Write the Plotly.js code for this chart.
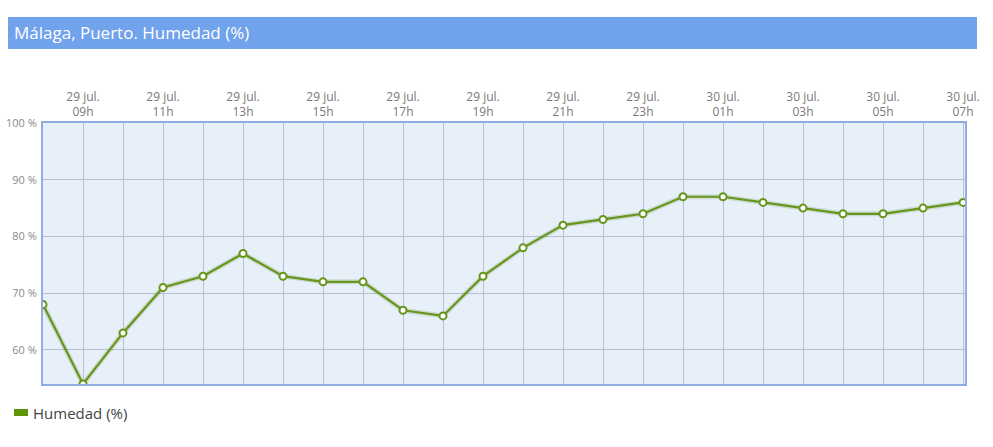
<!DOCTYPE html>
<html>
<head>
<meta charset="utf-8">
<script src="https://cdn.plot.ly/plotly-3.0.1.min.js"></script>
<style>html,body{margin:0;padding:0;background:#fff;}#chart{width:993px;height:447px;}</style>
</head>
<body>
<div id="chart"></div>
<script>
const times = ['2024-07-29 08:00','2024-07-29 09:00','2024-07-29 10:00','2024-07-29 11:00','2024-07-29 12:00','2024-07-29 13:00',
  '2024-07-29 14:00','2024-07-29 15:00','2024-07-29 16:00','2024-07-29 17:00','2024-07-29 18:00','2024-07-29 19:00',
  '2024-07-29 20:00','2024-07-29 21:00','2024-07-29 22:00','2024-07-29 23:00','2024-07-30 00:00','2024-07-30 01:00',
  '2024-07-30 02:00','2024-07-30 03:00','2024-07-30 04:00','2024-07-30 05:00','2024-07-30 06:00','2024-07-30 07:00'];
const humidity = [68,54,63,71,73,77,73,72,72,67,66,73,78,82,83,84,87,87,86,85,84,84,85,86];
const tickTimes = ['2024-07-29 09:00','2024-07-29 11:00','2024-07-29 13:00','2024-07-29 15:00','2024-07-29 17:00','2024-07-29 19:00',
  '2024-07-29 21:00','2024-07-29 23:00','2024-07-30 01:00','2024-07-30 03:00','2024-07-30 05:00','2024-07-30 07:00'];
const tickLabels = ['29 jul.<br>09h','29 jul.<br>11h','29 jul.<br>13h','29 jul.<br>15h','29 jul.<br>17h','29 jul.<br>19h',
  '29 jul.<br>21h','29 jul.<br>23h','30 jul.<br>01h','30 jul.<br>03h','30 jul.<br>05h','30 jul.<br>07h'];
const yTicks = [60,70,80,90,100];
const yTickLabels = ['60 %','70 %','80 %','90 %','100 %'];
const titleText = 'Málaga, Puerto. Humedad (%)';
const seriesName = 'Humedad (%)';

const green = '#66961b';
const traces = [
  {x: times, y: humidity, type:'scatter', mode:'lines', hoverinfo:'skip', showlegend:false,
   line:{color:'rgba(90,120,40,0.18)', width:5}},
  {x: times, y: humidity, type:'scatter', mode:'lines+markers', name: seriesName, showlegend:false,
   line:{color: green, width:2.2},
   marker:{symbol:'circle', size:7, color:'#ffffff', line:{color: green, width:2}}}
];

const layout = {
  width: 993, height: 447,
  margin: {l:43, r:28, t:123, b:63},
  paper_bgcolor:'#ffffff', plot_bgcolor:'#e7eff9',
  font:{family:'"Open Sans", sans-serif', color:'#7a7a7a', size:11},
  title:{text: titleText, xref:'container', yref:'container', x:14/993, xanchor:'left', y:1-33/447, yanchor:'middle',
    font:{family:'"Open Sans", sans-serif', size:17, color:'#ffffff'}},
  xaxis:{type:'date', side:'top', range:['2024-07-29 08:00','2024-07-30 07:03'],
    tickmode:'array', tickvals: tickTimes, ticktext: tickLabels, ticks:'', showgrid:true,
    gridcolor:'#b7bfd2', gridwidth:1,
    minor:{dtick:3600000, tick0:'2024-07-29 08:00', showgrid:true, gridcolor:'#b7bfd2', gridwidth:1, ticks:''},
    showline:true, mirror:true, linecolor:'#91ace0', linewidth:2, zeroline:false,
    tickfont:{size:12, color:'#7a7a7a'}, fixedrange:true},
  yaxis:{range:[54,100], tickmode:'array', tickvals:yTicks, ticktext:yTickLabels, showgrid:true,
    gridcolor:'#b7bfd2', gridwidth:1, showline:true, mirror:true, linecolor:'#91ace0', linewidth:2,
    zeroline:false, ticks:'', tickfont:{size:11, color:'#8a8a8a'}, ticklabelstandoff:2, fixedrange:true},
  shapes:[
    {type:'rect', xref:'paper', yref:'paper', x0:(8-43)/922, x1:(977-43)/922, y0:(384-49)/261, y1:(384-17)/261,
     fillcolor:'#71a2ec', line:{width:0}, layer:'below'},
    {type:'rect', xref:'paper', yref:'paper', x0:(14-43)/922, x1:(28-43)/922, y0:(384-416)/261, y1:(384-409)/261,
     fillcolor:'#5f9607', line:{width:0}}
  ],
  annotations:[
    {text: seriesName, xref:'paper', yref:'paper', x:(31-43)/922, y:(384-413)/261, xanchor:'left', yanchor:'middle',
     showarrow:false, font:{family:'"Open Sans", sans-serif', size:15, color:'#444444'}}
  ]
};
Plotly.newPlot('chart', traces, layout, {displayModeBar:false, staticPlot:true});
</script>
</body>
</html>
